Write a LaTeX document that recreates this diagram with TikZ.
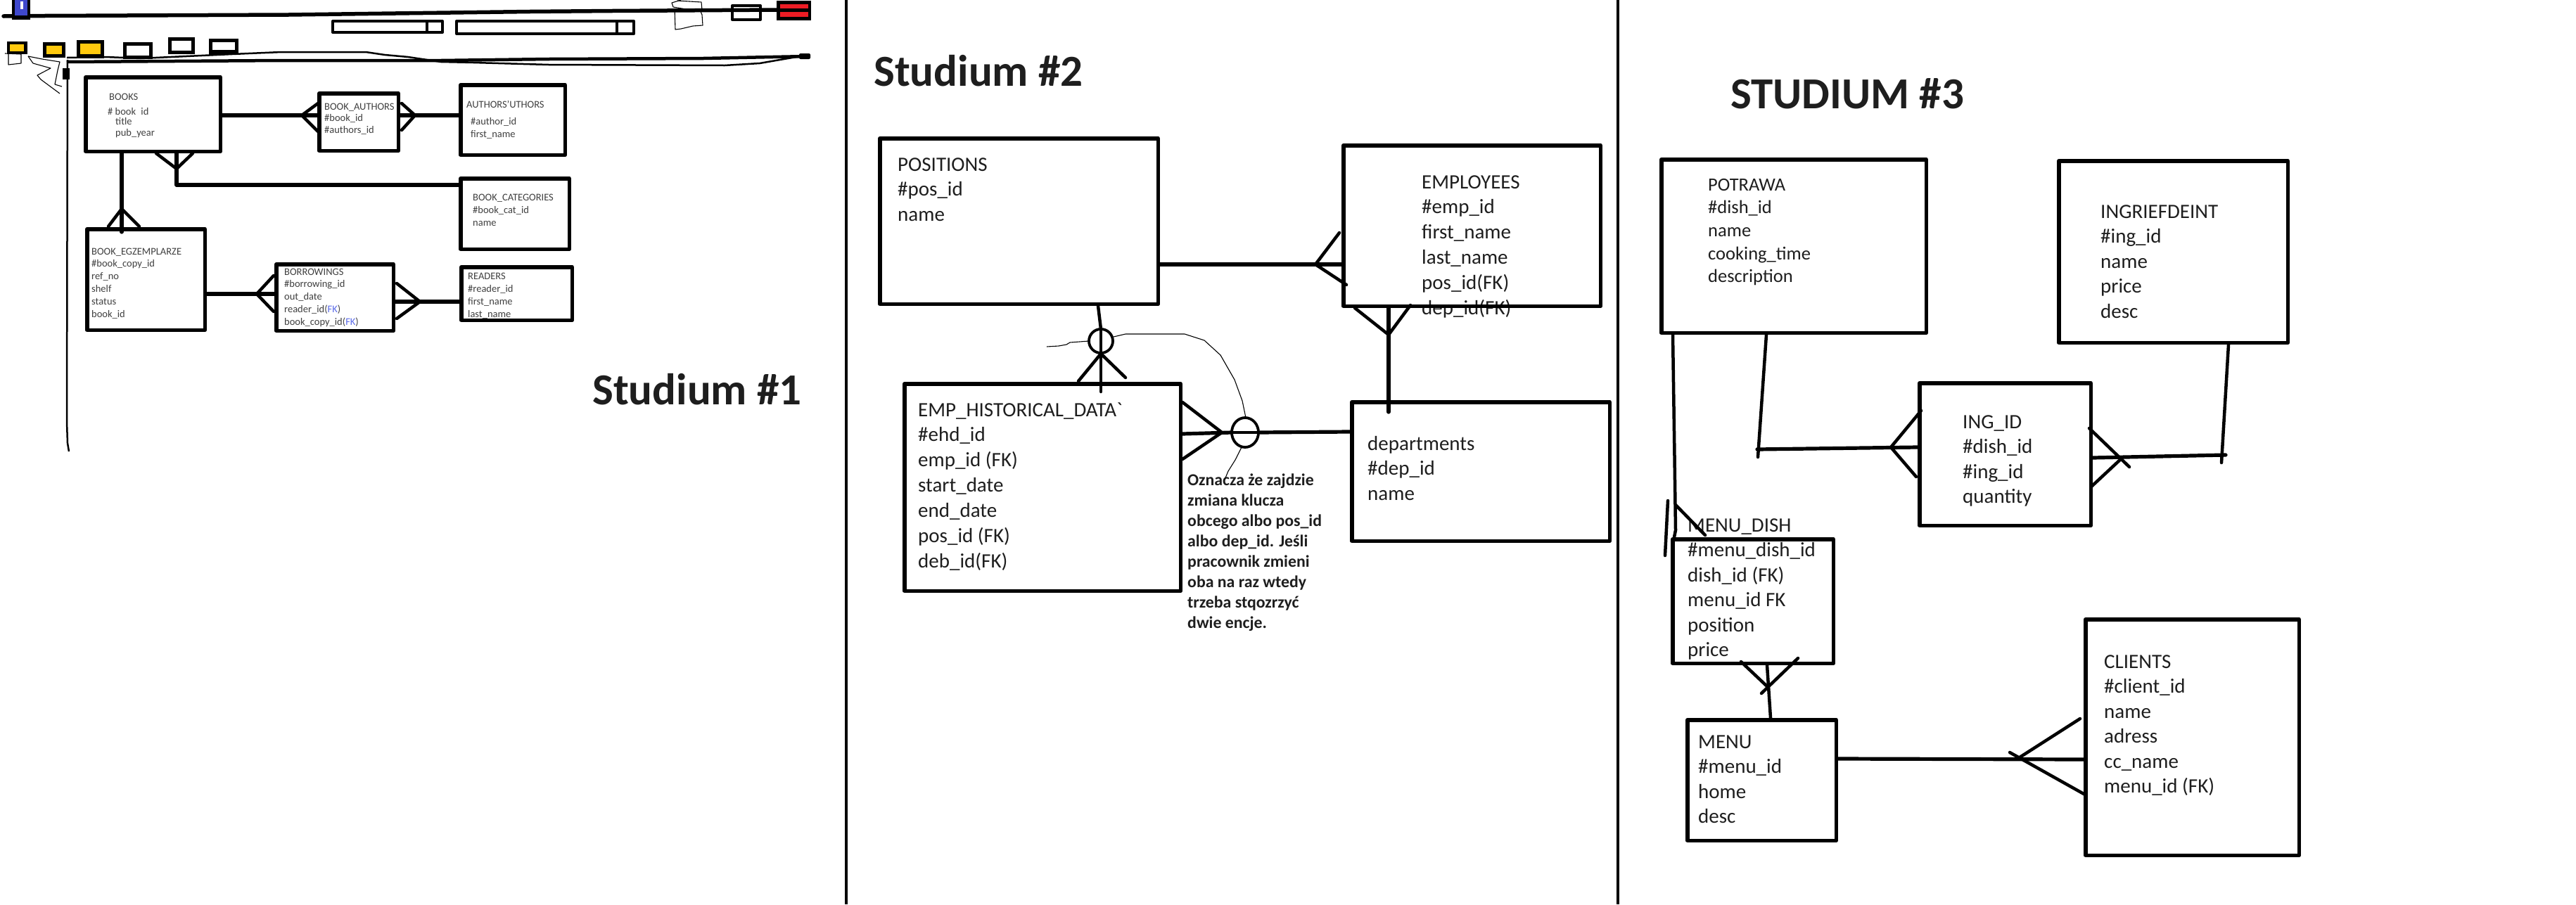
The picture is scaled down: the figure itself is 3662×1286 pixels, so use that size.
\documentclass[tikz,border=0pt]{standalone}
\usepackage{fontspec}
\setmainfont{Carlito}
\definecolor{sonetext}{HTML}{404040}
\definecolor{stext}{HTML}{1E1E1E}
\definecolor{fkblue}{HTML}{5B6BE8}
\definecolor{iconyellow}{HTML}{FFC90E}
\definecolor{iconred}{HTML}{ED1C24}
\definecolor{iconblue}{HTML}{3F48CC}
\tikzset{
  ebox/.style={draw, line width=5.5pt, rectangle, inner sep=0pt},
  conn/.style={line width=5.2pt, line cap=round},
  crow/.style={line width=4.5pt, line cap=round},
  sketch/.style={line width=1.1pt},
  tone/.style={anchor=base west, inner sep=0pt, text=sonetext, font=\fontsize{14.5}{17}\selectfont},
  ttwo/.style={anchor=base west, inner sep=0pt, text=stext, font=\fontsize{29}{35}\selectfont},
  tpot/.style={anchor=base west, inner sep=0pt, text=stext, font=\fontsize{26.5}{32}\selectfont},
  tnote/.style={anchor=base west, inner sep=0pt, text=stext, font=\bfseries\fontsize{23.8}{29}\selectfont},
  thead/.style={anchor=base west, inner sep=0pt, text=stext, font=\bfseries\fontsize{63}{76}\selectfont},
}
\newcommand\erbox[5]{\node[ebox, minimum width={#4-#2-5.5}, minimum height={#5-#3-5.5}] (#1) at ({(#2+#4)/2},{(#3+#5)/2}) {};}
\newcommand\fieldlist[6]{\foreach \t [count=\i from 0] in {#6} \node[#2] (#1-\i) at (#3,{#4+#5*\i}) {\t};}
\begin{document}
\begin{tikzpicture}[x=1pt,y=-1pt,line join=round]
\fill[white] (0,0) rectangle (3662,1286);
\useasboundingbox (0,0) rectangle (3662,1286);

% ---------------- Studium 1 : window chrome ----------------
\draw[line width=5.5pt, line cap=round] (5,23) -- (63,22.5) -- (180,22) -- (410,21) -- (523,19.5) -- (640,18) -- (753,16.5) -- (870,15.5) -- (1104,14);
\fill (17,0) rectangle (43,28);
\fill[iconblue] (21,0) rectangle (39,22);
\fill[white] (29,2) rectangle (33,13);
\draw[line width=4pt] (473,30) rectangle (629,46);
\draw[line width=4pt] (607,30) -- (607,46);
\draw[line width=4pt] (649,30) rectangle (901,48);
\draw[line width=4pt] (877,30) -- (877,48);
\draw[sketch] (968,0) -- (955,4) -- (957,10) -- (975,13) -- (995,14) -- (998,21) -- (999,36) -- (985,37) -- (968,41) -- (960,42) -- (959,12);
\draw[sketch] (963,1) -- (997,3) -- (998,14);
\draw[line width=4pt] (1041,8) rectangle (1081,28);
\fill (1104,1) rectangle (1153,29);
\fill[iconred] (1109,6) rectangle (1149,12);
\fill[iconred] (1109,17) rectangle (1149,24);
% icon row
\fill (10,59) rectangle (39,77);   \fill[iconyellow] (14,63) rectangle (34,73);
\fill (61,60) rectangle (93,82);   \fill[iconyellow] (66,65) rectangle (88,77);
\fill (109,57) rectangle (148,83); \fill[iconyellow] (114,62) rectangle (143,77);
\fill (175,60) rectangle (217,84); \fill[white] (180,65) rectangle (212,79);
\fill (239,53) rectangle (277,77); \fill[white] (244,58) rectangle (272,72);
\fill (297,55) rectangle (339,78); \fill[white] (302,60) rectangle (334,71);
% second bar
\draw[line width=4.5pt] (95,88) -- (400,86) -- (627,86) -- (780,84) -- (1000,83) -- (1148,80);
\fill[rounded corners=2pt] (1136,76) rectangle (1152,84);
\draw[line width=2.5pt] (95,82) -- (150,81) -- (200,83) -- (330,77) -- (400,74) -- (520,74) -- (547,78) -- (580,81) -- (627,88) -- (673,89) -- (780,92) -- (1030,93) -- (1080,90) -- (1103,86) -- (1138,80);
\draw[line width=2.5pt] (96,85) -- (95,600) -- (96,630) -- (98,642);
\fill (89,97) rectangle (99,113);
\draw[sketch] (7,76) -- (30,77) -- (30,90) -- (12,92) -- (12,77);
\draw[sketch] (40,80) -- (60,84) -- (85,88) -- (82,100) -- (78,120) -- (88,123);
\draw[sketch] (40,80) -- (47,90) -- (72,97) -- (53,107) -- (58,113) -- (85,133);

% ---------------- Studium 1 : texts ----------------
\node[tone] (books-0) at (155,142) {BOOKS};
\node[tone] (books-1) at (153,163) {\# book\enspace id};
\node[tone] (books-2) at (164,177) {title};
\node[tone] (books-3) at (164,193) {pub\_year};
\fieldlist{ba}{tone}{461}{156}{16.5}{BOOK\_AUTHORS,\#book\_id,\#authors\_id}
\node[tone] (au-0) at (663,153) {AUTHORS'UTHORS};
\node[tone] (au-1) at (669,177) {\#author\_id};
\node[tone] (au-2) at (669,195) {first\_name};
\fieldlist{bc}{tone}{672}{285}{18}{BOOK\_CATEGORIES,\#book\_cat\_id,name}
\fieldlist{eg}{tone}{130}{362}{17.8}{BOOK\_EGZEMPLARZE,\#book\_copy\_id,ref\_no,shelf,status,book\_id}
\fieldlist{bo}{tone}{404}{391}{17.8}{BORROWINGS,\#borrowing\_id,out\_date,{reader\_id(\textcolor{fkblue}{FK})},{book\_copy\_id(\textcolor{fkblue}{FK})}}
\fieldlist{rd}{tone}{665}{397}{18}{READERS,\#reader\_id,first\_name,last\_name}
\node[thead] (head1) at (842,575) {Studium \#1};

% ---------------- Studium 1 : boxes ----------------
\erbox{books}{119}{107}{316}{218}
\erbox{bookauthors}{451}{130}{569}{217}
\erbox{authors}{652}{118}{806}{223}
\erbox{bookcat}{652}{251}{812}{357}
\erbox{egz}{121}{323}{294}{472}
\erbox{borrow}{390}{373}{562}{473}
\erbox{readers}{653}{377}{816}{458}

% ---------------- Studium 1 : connectors ----------------
\draw[conn] (books.east |- 0,164) -- (bookauthors.west |- 0,164);
\draw[crow] (452,147) -- (429,164) -- (452,187);
\draw[conn] (bookauthors.east |- 0,164) -- (authors.west |- 0,164);
\draw[crow] (571,147) -- (590,164) -- (571,185);
\draw[conn] (books.south -| 251,0) -- (251,263) -- (bookcat.west |- 0,263);
\draw[crow] (222,218) -- (251,240) -- (274,218);
\draw[conn] (books.south -| 173,0) -- (173,330);
\draw[crow] (154,322) -- (173,297) -- (198,322);
\draw[conn] (egz.east |- 0,418) -- (borrow.west |- 0,418);
\draw[crow] (389,392) -- (365,418) -- (389,443);
\draw[conn] (borrow.east |- 0,429) -- (readers.west |- 0,429);
\draw[crow] (564,403) -- (597,429) -- (564,453);

% ---------------- dividers ----------------
\draw[line width=4.5pt] (1203,0) -- (1203,1286);
\draw[line width=4.5pt] (2300,0) -- (2300,1286);

% ---------------- Studium 2 ----------------
\node[thead] (head2) at (1242,122) {Studium \#2};
\fieldlist{po}{ttwo}{1276}{243}{35.5}{POSITIONS,\#pos\_id,name}
\fieldlist{em}{ttwo}{2021}{268}{35.8}{EMPLOYEES,\#emp\_id,first\_name,last\_name,pos\_id(FK),dep\_id(FK)}
\fieldlist{eh}{ttwo}{1305}{592}{35.95}{EMP\_HISTORICAL\_DATA\textasciigrave,\#ehd\_id,emp\_id (FK),start\_date,end\_date,pos\_id (FK),deb\_id(FK)}
\fieldlist{de}{ttwo}{1944}{640}{35.5}{departments,\#dep\_id,name}
\fieldlist{nt}{tnote}{1688}{690}{29.1}{Oznacza że zajdzie,zmiana klucza,obcego albo pos\_id,albo dep\_id. Jeśli,pracownik zmieni,oba na raz wtedy,trzeba stqozrzyć,dwie encje.}

\erbox{positions}{1248}{194}{1649}{435}
\erbox{employees}{1907}{204}{2278}{438}
\erbox{emphist}{1283}{543}{1681}{843}
\erbox{departments}{1919}{569}{2291}{772}

\draw[conn] (positions.east |- 0,376) -- (employees.west |- 0,376);
\draw[crow] (1904,331) -- (1870,376) -- (1914,405);
\draw[conn] (employees.south -| 1974,0) -- (1974,586);
\draw[crow] (1926,438) -- (1974,476) -- (2005,434);
\draw[crow] (positions.south -| 1561,0) -- (1565,468);
\draw[crow] (1565,468) -- (1565,557);
\draw[line width=3.8pt] (1565,485) ellipse [x radius=17, y radius=17];
\draw[crow] (1533,542) -- (1565,503) -- (1600,537);
\draw[conn] (emphist.east |- 0,617) -- (1751,615);
\draw[conn] (1789,615) -- (departments.west |- 0,614);
\draw[crow] (1751,615) -- (1789,615);
\draw[line width=3.8pt] (1770,615) ellipse [x radius=19, y radius=21];
\draw[crow] (1681,572) -- (1737,615) -- (1681,653);
\draw[sketch] (1488,493) -- (1505,492) -- (1516,490) -- (1521,487) -- (1548,485);
\draw[sketch] (1583,479) -- (1600,475) -- (1684,475) -- (1712,484) -- (1735,505) -- (1755,540) -- (1766,570) -- (1771,594);
\draw[sketch] (1765,636) -- (1756,654) -- (1746,670) -- (1741,682);

% ---------------- Studium 3 ----------------
\node[thead] (head3) at (2460,154) {STUDIUM \#3};
\fieldlist{pt}{tpot}{2428}{271}{32.7}{POTRAWA,\#dish\_id,name,cooking\_time,description}
\fieldlist{ig}{ttwo}{2986}{310}{35.5}{INGRIEFDEINT,\#ing\_id,name,price,desc}
\fieldlist{ii}{ttwo}{2790}{609}{35.5}{ING\_ID,\#dish\_id,\#ing\_id,quantity}
\fieldlist{md}{ttwo}{2399}{756}{35.5}{MENU\_DISH,\#menu\_dish\_id,dish\_id (FK),menu\_id FK,position,price}
\fieldlist{mn}{ttwo}{2414}{1064}{35.6}{MENU,\#menu\_id,home,desc}
\fieldlist{cl}{ttwo}{2991}{950}{35.5}{CLIENTS,\#client\_id,name,adress,cc\_name,menu\_id (FK)}

\erbox{potrawa}{2359}{224}{2741}{476}
\erbox{ingr}{2924}{226}{3255}{490}
\erbox{ingid}{2726}{542}{2975}{750}
\erbox{menudish}{2375}{764}{2609}{946}
\erbox{menu}{2396}{1021}{2613}{1198}
\erbox{clients}{2962}{878}{3271}{1219}

\draw[crow] (potrawa.south -| 2511,0) -- (2499,650);
\draw[conn] (2498,639) -- (ingid.west |- 0,636);
\draw[crow] (2731,584) -- (2688,636) -- (2724,678);
\draw[conn] (ingid.east |- 0,651) -- (3164,647);
\draw[crow] (ingr.south -| 3168,0) -- (3158,658);
\draw[crow] (2973,692) -- (3018,650);
\draw[crow] (2970,609) -- (3027,664);
\draw[crow] (potrawa.south -| 2378,0) -- (2382,754) -- (menudish.north -| 2380,0);
\draw[crow] (2371,712) -- (2367,790);
\draw[crow] (2382,718) -- (2424,761);
\draw[crow] (menudish.south -| 2512,0) -- (menu.north -| 2517,0);
\draw[crow] (2475,941) -- (2512,976);
\draw[crow] (2556,936) -- (2504,986);
\draw[conn] (menu.east |- 0,1079) -- (clients.west |- 0,1080);
\draw[crow] (2957,1022) -- (2868,1079);
\draw[crow] (2964,1130) -- (2857,1070);
\end{tikzpicture}
\end{document}
